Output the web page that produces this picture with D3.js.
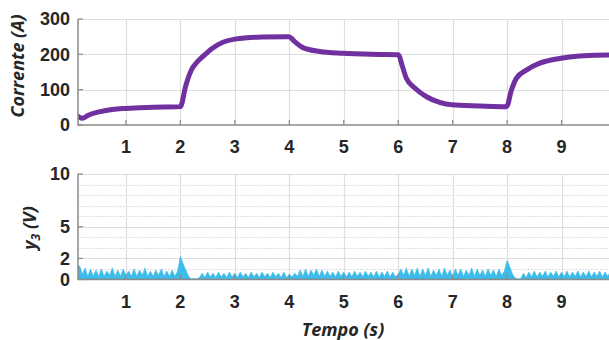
<!DOCTYPE html>
<html><head><meta charset="utf-8">
<script src="https://cdn.jsdelivr.net/npm/d3@7"></script>
<style>body{margin:0;background:#fff}svg{display:block}</style>
</head><body>
<svg id="c" width="609" height="340"></svg>
<script>
// ---- data ----
const xTicks = [1,2,3,4,5,6,7,8,9];
const currentTicks = [0,100,200,300];
const voltTicks = [0,2,5,10];
const voltMinor = [1,3,4,6,7,8,9];
const currentTime = [0.12,0.2,0.3,0.53,0.75,1.0,1.5,2.0,2.1,2.2,2.3,2.42,2.57,2.78,3.0,3.5,3.99,4.1,4.25,4.56,4.98,5.5,6.0,6.08,6.15,6.31,6.52,6.76,6.98,7.5,7.99,8.08,8.17,8.36,8.6,8.99,9.33,9.87,10.0];
const currentVal  = [25,19,27,38,44,47,50,52,112,155,177,195,215,234,243,249,250,236,219,208,203,200,199,165,132,104,80,64,57,54,52,99,132,156,175,189,195,198,198];
const noiseStart = 0.10, noiseStep = 0.05;
const noiseVal = [
 1.2,1.3,0.5,1.1,0.3,1.0,0.3,0.9,0.3,1.0,0.3,0.8,0.4,1.1,0.3,0.9,0.3,1.0,0.4,0.8,
 0.3,1.0,0.3,0.9,0.4,1.1,0.3,0.8,0.3,0.9,0.4,1.0,0.3,0.8,0.3,0.9,0.3,0.8,2.2,1.5,
 0.9,0.3,0.05,0.1,0.05,0.2,0.6,0.2,0.7,0.25,0.6,0.2,0.7,0.25,0.6,0.2,0.7,0.25,0.6,0.2,
 0.7,0.25,0.6,0.2,0.7,0.25,0.6,0.2,0.7,0.25,0.6,0.2,0.7,0.25,0.6,0.2,0.7,0.2,0.5,0.25,
 0.6,0.3,0.9,0.3,1.0,0.3,0.9,0.4,1.0,0.3,0.9,0.3,0.8,0.3,0.7,0.25,0.8,0.3,0.7,0.25,
 0.7,0.25,0.8,0.3,0.7,0.25,0.8,0.3,0.7,0.25,0.8,0.25,0.7,0.3,0.8,0.25,0.7,0.25,0.5,1.0,
 0.4,1.1,0.3,1.0,0.4,1.1,0.3,1.0,0.4,1.1,0.3,0.9,0.4,1.0,0.3,1.1,0.4,0.9,0.3,1.0,
 0.4,1.0,0.3,0.9,0.4,1.1,0.3,1.0,0.4,0.9,0.3,1.0,0.4,0.9,0.3,1.0,0.4,0.8,1.8,1.2,
 0.5,0.15,0.05,0.1,0.6,0.2,0.7,0.25,0.8,0.25,0.7,0.3,0.8,0.25,0.7,0.3,0.8,0.25,0.7,0.3,
 0.8,0.25,0.7,0.3,0.8,0.25,0.7,0.3,0.8,0.25,0.7,0.3,0.8,0.25,0.7,0.3,0.8,0.25,0.7,0.3
];

// ---- layout ----
const svg = d3.select("#c");
const x = d3.scaleLinear().domain([0.12,10]).range([78,616]);
const yTop = d3.scaleLinear().domain([0,300]).range([125,19]);
const yBot = d3.scaleLinear().domain([0,10]).range([279.5,174]);
const gridCol = "#dedede", axisCol = "#8a8a8a", textCol = "#262626";
const purple = "#7030a0", blue = "#3dbbe9";
const tickFont = "bold 18px 'Liberation Sans', Arial, sans-serif";

svg.append("defs").append("clipPath").attr("id","clipTop")
  .append("rect").attr("x",78).attr("y",10).attr("width",540).attr("height",120);
svg.select("defs").append("clipPath").attr("id","clipBot")
  .append("rect").attr("x",78).attr("y",170).attr("width",540).attr("height",110);

function panel(y, yTickVals, minorVals){
  const g = svg.append("g");
  const [y0,y1] = y.range();
  if(minorVals){
    g.selectAll(".mg").data(minorVals).join("line")
      .attr("x1",x.range()[0]).attr("x2",616)
      .attr("y1",d=>Math.round(y(d))+0.5).attr("y2",d=>Math.round(y(d))+0.5)
      .attr("stroke","#d6d6d6").attr("stroke-width",1).attr("stroke-dasharray","1.5,1.5");
  }
  g.selectAll(".hg").data(yTickVals.filter(d=>d!==0)).join("line")
    .attr("x1",x.range()[0]).attr("x2",616)
    .attr("y1",d=>Math.round(y(d))+0.5).attr("y2",d=>Math.round(y(d))+0.5)
    .attr("stroke",gridCol).attr("stroke-width",1.2);
  g.selectAll(".vg").data(xTicks).join("line")
    .attr("x1",d=>Math.round(x(d))+0.5).attr("x2",d=>Math.round(x(d))+0.5)
    .attr("y1",y1).attr("y2",y0)
    .attr("stroke",gridCol).attr("stroke-width",1.2);
  return g;
}

function axes(y, yTickVals, labelY){
  const [y0,y1] = y.range();
  const ax = svg.append("g");
  ax.append("line").attr("x1",78).attr("x2",78).attr("y1",y1).attr("y2",y0+0.5)
    .attr("stroke",axisCol).attr("stroke-width",1.5);
  ax.append("line").attr("x1",78).attr("x2",616).attr("y1",y0).attr("y2",y0)
    .attr("stroke",axisCol).attr("stroke-width",1.5);
  ax.selectAll(".yt").data(yTickVals).join("line")
    .attr("x1",78).attr("x2",83).attr("y1",d=>y(d)).attr("y2",d=>y(d))
    .attr("stroke",axisCol).attr("stroke-width",1.2);
  ax.selectAll(".xt").data(xTicks).join("line")
    .attr("x1",d=>x(d)).attr("x2",d=>x(d)).attr("y1",y0).attr("y2",y0-5)
    .attr("stroke",axisCol).attr("stroke-width",1.2);
  ax.selectAll(".yl").data(yTickVals).join("text")
    .attr("x",70).attr("y",d=>y(d)).attr("dy","0.36em")
    .attr("text-anchor","end").style("font",tickFont).attr("fill",textCol)
    .text(d=>d);
  ax.selectAll(".xl").data(xTicks).join("text")
    .attr("x",d=>x(d)).attr("y",labelY).attr("dy","0.36em")
    .attr("text-anchor","middle").style("font",tickFont).attr("fill",textCol)
    .text(d=>d);
}

// top panel
panel(yTop, currentTicks, null);
const line = d3.line().x((d,i)=>x(currentTime[i])).y(d=>yTop(d)).curve(d3.curveMonotoneX);
svg.append("path").datum(currentVal).attr("d",line)
  .attr("fill","none").attr("stroke",purple).attr("stroke-width",5)
  .attr("stroke-linejoin","round").attr("stroke-linecap","round")
  .attr("clip-path","url(#clipTop)");
axes(yTop, currentTicks, 147);

// bottom panel
panel(yBot, voltTicks, voltMinor);
const area = d3.area().x((d,i)=>x(noiseStart+i*noiseStep)).y0(yBot(0)).y1(d=>yBot(d));
svg.append("path").datum(noiseVal).attr("d",area)
  .attr("fill",blue).attr("stroke",blue).attr("stroke-width",0.6)
  .attr("clip-path","url(#clipBot)");
axes(yBot, voltTicks, 302);

// labels
const labFont = "italic bold 18px 'Open Sans', 'Noto Sans', sans-serif";
svg.append("text").attr("transform","translate(24,66) rotate(-90)")
  .attr("text-anchor","middle").style("font",labFont).attr("fill",textCol)
  .text("Corrente (A)");
const yl = svg.append("text").attr("transform","translate(36,228) rotate(-90)")
  .attr("text-anchor","middle").style("font",labFont).attr("fill",textCol);
yl.append("tspan").text("y");
yl.append("tspan").attr("dy","4").style("font-size","12px").text("3");
yl.append("tspan").attr("dy","-4").text(" (V)");
svg.append("text").attr("x",343).attr("y",336)
  .attr("text-anchor","middle").style("font",labFont).attr("fill",textCol)
  .text("Tempo (s)");
</script>
</body></html>
